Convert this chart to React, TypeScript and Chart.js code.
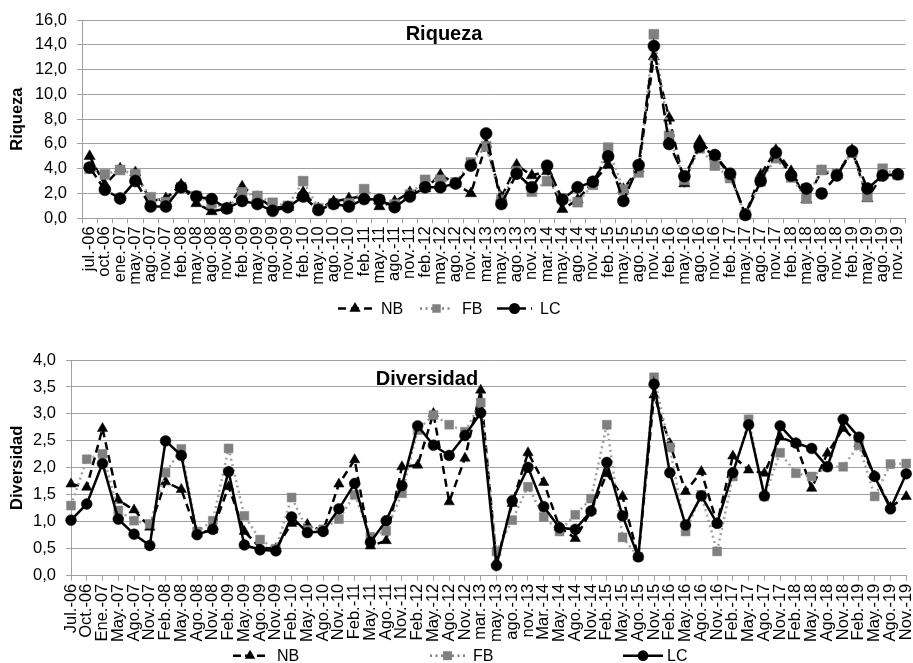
import React, { useEffect, useRef } from 'react';
import { Chart, registerables } from 'chart.js';

Chart.register(...registerables);

const FONT = '"Liberation Sans", Arial, sans-serif';
const GRID = '#a0a0a0';
const GRAY = '#808080';

const labelsRiqueza = ['jul.-06','oct.-06','ene.-07','may.-07','ago.-07','nov.-07','feb.-08','may.-08','ago.-08','nov.-08','feb.-09','may.-09','ago.-09','nov.-09','feb.-10','may.-10','ago.-10','nov.-10','feb.-11','may.-11','ago.-11','nov.-11','feb.-12','may.-12','ago.-12','nov.-12','mar.-13','may.-13','ago.-13','nov.-13','mar.-14','may.-14','ago.-14','nov.-14','feb.-15','may.-15','ago.-15','nov.-15','feb.-16','may.-16','ago.-16','nov.-16','feb.-17','may.-17','ago.-17','nov.-17','feb.-18','may.-18','ago.-18','nov.-18','feb.-19','may.-19','ago.-19','nov.-19'];

const labelsDiversidad = ['Jul.-06','Oct.-06','Ene.-07','May.-07','Ago.-07','Nov.-07','Feb.-08','May.-08','Ago.-08','Nov.-08','Feb.-09','May.-09','Ago.-09','Nov.-09','Feb.-10','May.-10','Ago.-10','Nov.-10','Feb.-11','May.-11','Ago.-11','Nov.-11','Feb.-12','May.-12','Ago.-12','Nov.-12','mar.-13','may.-13','ago.-13','nov.-13','Mar.-14','May.-14','Ago.-14','Nov.-14','Feb.-15','May.-15','Ago.-15','Nov.-15','Feb.-16','May.-16','Ago.-16','Nov.-16','Feb.-17','May.-17','Ago.-17','Nov.-17','Feb.-18','May.-18','Ago.-18','Nov.-18','Feb.-19','May.-19','Ago.-19','Nov.-19'];

const riquezaNB = [5.0,2.7,4.0,3.7,1.4,1.6,2.7,1.2,0.55,0.8,2.55,1.7,0.9,0.9,2.1,0.8,1.35,1.6,1.8,0.95,1.35,2.1,2.4,3.5,2.8,2.0,6.0,1.7,4.3,3.45,3.8,0.73,1.5,2.9,4.3,2.35,4.0,13.05,8.1,2.8,6.25,5.0,3.5,0.3,3.5,5.5,3.8,1.5,3.8,3.5,5.5,1.6,3.5,3.5];
const riquezaFB = [4.0,3.55,3.9,3.55,1.7,1.3,2.5,1.8,1.2,0.8,2.1,1.8,1.25,1.0,3.0,0.8,1.2,1.2,2.35,1.5,1.1,1.9,3.1,3.1,2.9,4.5,5.8,1.5,3.8,2.15,3.0,1.6,1.3,2.7,5.7,2.3,3.7,14.85,6.65,3.1,5.65,4.25,3.25,0.3,3.0,4.85,3.3,1.6,3.9,3.6,5.3,1.75,4.0,3.5];
const riquezaLC = [4.1,2.3,1.6,3.0,0.95,0.95,2.5,1.75,1.55,0.8,1.4,1.15,0.6,0.9,1.75,0.67,1.15,0.95,1.55,1.5,0.9,1.75,2.5,2.5,2.8,4.25,6.85,1.15,3.6,2.5,4.25,1.5,2.5,2.95,5.0,1.4,4.3,13.9,6.0,3.4,5.8,5.1,3.6,0.27,3.0,5.3,3.45,2.4,2.0,3.45,5.4,2.4,3.45,3.55];

const diversidadNB = [1.70,1.64,2.73,1.40,1.22,0.90,1.74,1.60,0.78,0.85,1.65,0.82,0.52,0.50,0.97,0.95,0.83,1.70,2.15,0.55,0.65,2.02,2.05,3.01,1.37,2.18,3.44,0.25,1.34,2.28,1.73,0.90,0.69,1.20,1.89,1.47,0.35,3.35,2.45,1.56,1.93,0.97,2.22,1.96,1.90,2.57,2.45,1.62,2.27,2.73,2.45,1.85,1.27,1.47];
const diversidadFB = [1.30,2.16,2.26,1.21,1.02,0.96,1.91,2.35,0.82,1.02,2.36,1.11,0.67,0.50,1.45,0.85,0.86,1.05,1.50,0.72,0.83,1.53,2.70,2.98,2.80,2.67,3.21,0.45,1.03,1.65,1.09,0.82,1.13,1.43,2.80,0.71,0.35,3.68,2.38,0.82,1.50,0.45,1.84,2.90,1.47,2.28,1.90,1.84,2.02,2.02,2.42,1.47,2.07,2.08];
const diversidadLC = [1.03,1.33,2.08,1.05,0.77,0.56,2.50,2.23,0.76,0.86,1.93,0.57,0.48,0.46,1.09,0.80,0.82,1.24,1.71,0.62,1.02,1.67,2.78,2.42,2.23,2.60,3.02,0.19,1.39,2.01,1.28,0.89,0.86,1.20,2.10,1.11,0.35,3.55,1.91,0.94,1.48,0.97,1.91,2.80,1.48,2.78,2.46,2.36,2.02,2.90,2.57,1.84,1.24,1.89];

type Marker = 'circle' | 'rect' | 'triangle';

function drawMarker(ctx: CanvasRenderingContext2D, kind: Marker, x: number, y: number, r: number, color: string) {
  ctx.save();
  ctx.setLineDash([]);
  ctx.fillStyle = color;
  ctx.beginPath();
  if (kind === 'circle') {
    ctx.arc(x, y, r, 0, Math.PI * 2);
  } else if (kind === 'rect') {
    const s = r * Math.SQRT1_2;
    ctx.rect(x - s, y - s, 2 * s, 2 * s);
  } else {
    const a = (2 * Math.PI) / 3;
    ctx.moveTo(x, y - r);
    ctx.lineTo(x + r * Math.sin(a), y - r * Math.cos(a));
    ctx.lineTo(x + r * Math.sin(2 * a), y - r * Math.cos(2 * a));
    ctx.closePath();
  }
  ctx.fill();
  ctx.restore();
}

interface LegendItem { label: string; color: string; width: number; dash: number[]; marker: Marker; r: number; x1: number; x2: number; textX: number; }

interface Panel {
  labels: string[]; nb: number[]; fb: number[]; lc: number[];
  yMax: number; step: number; yTitle: string; mainTitle: string; titleX: number; titleY: number;
  left: number; top: number; xH: number; right: number; offset: boolean;
  lcDash: number[]; rTri: number; rRect: number; rCirc: number;
  legendY: number; legend: LegendItem[];
}

function makeConfig(p: Panel): any {
  const tickFont = { family: FONT, size: 16.5 };
  const overlay = {
    id: 'overlay',
    afterDraw(chart: any) {
      const ctx: CanvasRenderingContext2D = chart.ctx;
      ctx.save();
      ctx.fillStyle = '#000';
      ctx.font = `bold 20px ${FONT}`;
      ctx.textAlign = 'center';
      ctx.textBaseline = 'alphabetic';
      ctx.fillText(p.mainTitle, p.titleX, p.titleY);
      ctx.font = `16px ${FONT}`;
      ctx.textAlign = 'left';
      ctx.textBaseline = 'middle';
      for (const it of p.legend) {
        ctx.save();
        ctx.strokeStyle = it.color;
        ctx.lineWidth = it.width;
        ctx.setLineDash(it.dash);
        ctx.beginPath();
        ctx.moveTo(it.x1, p.legendY);
        ctx.lineTo(it.x2, p.legendY);
        ctx.stroke();
        ctx.restore();
        drawMarker(ctx, it.marker, (it.x1 + it.x2) / 2, p.legendY, it.r, it.color);
        ctx.fillStyle = '#000';
        ctx.fillText(it.label, it.textX, p.legendY + 1);
      }
      ctx.restore();
    },
  };
  return {
    type: 'line',
    data: {
      labels: p.labels,
      datasets: [
        { label: 'NB', data: p.nb, borderColor: '#000', backgroundColor: '#000', borderWidth: 2.5, borderDash: [8, 5], pointStyle: 'triangle', pointRadius: p.rTri, pointBorderWidth: 0.5, pointBackgroundColor: '#000', pointBorderColor: '#000', tension: 0, order: 3, clip: false },
        { label: 'FB', data: p.fb, borderColor: '#a0a0a0', backgroundColor: GRAY, borderWidth: 2.5, borderDash: [2, 3.5], pointStyle: 'rect', pointRadius: p.rRect, pointBorderWidth: 0.5, pointBackgroundColor: GRAY, pointBorderColor: GRAY, tension: 0, order: 2, clip: false },
        { label: 'LC', data: p.lc, borderColor: '#000', backgroundColor: '#000', borderWidth: 2.5, borderDash: p.lcDash, pointStyle: 'circle', pointRadius: p.rCirc, pointBorderWidth: 0.5, pointBackgroundColor: '#000', pointBorderColor: '#000', tension: 0, order: 1, clip: false },
      ],
    },
    options: {
      responsive: false,
      animation: false,
      events: [],
      layout: { padding: { top: p.top, left: 0, right: p.right, bottom: 0 } },
      plugins: { legend: { display: false }, tooltip: { enabled: false }, title: { display: false } },
      scales: {
        x: {
          type: 'category',
          offset: p.offset,
          grid: { display: true, offset: p.offset, drawOnChartArea: false, drawTicks: true, tickLength: 5, color: GRID, lineWidth: 1 },
          border: { display: true, color: GRID, width: 1 },
          ticks: { autoSkip: false, maxRotation: 90, minRotation: 90, padding: 3, font: tickFont, color: '#000' },
          afterFit: (s: any) => { s.height = p.xH; s.paddingLeft = 0; s.paddingRight = 0; },
        },
        y: {
          min: 0,
          max: p.yMax,
          ticks: { stepSize: p.step, padding: 10, font: tickFont, color: '#000', callback: (v: any) => Number(v).toFixed(1).replace('.', ',') },
          grid: { color: GRID, lineWidth: 1, tickLength: 5, drawTicks: true },
          border: { display: true, color: GRID, width: 1 },
          title: { display: true, text: p.yTitle, font: { family: FONT, size: 16.5, weight: 'bold' }, color: '#000', padding: { top: 8, bottom: 0 } },
          afterFit: (s: any) => { s.width = p.left; s.paddingTop = 0; s.paddingBottom = 0; },
        },
      },
    },
    plugins: [overlay],
  };
}

const riquezaPanel: Panel = {
  labels: labelsRiqueza, nb: riquezaNB, fb: riquezaFB, lc: riquezaLC,
  yMax: 16, step: 2, yTitle: 'Riqueza', mainTitle: 'Riqueza', titleX: 444, titleY: 40,
  left: 82, top: 20, xH: 111.7, right: 0, offset: true,
  lcDash: [12, 5], rTri: 6.5, rRect: 7, rCirc: 6,
  legendY: 308.5,
  legend: [
    { label: 'NB', color: '#000', width: 2.5, dash: [8, 5], marker: 'triangle', r: 6.5, x1: 338, x2: 372, textX: 381 },
    { label: 'FB', color: GRAY, width: 2.5, dash: [2, 3.5], marker: 'rect', r: 6, x1: 420, x2: 453, textX: 462 },
    { label: 'LC', color: '#000', width: 2.5, dash: [12, 5], marker: 'circle', r: 5.5, x1: 497, x2: 532, textX: 540 },
  ],
};

const diversidadPanel: Panel = {
  labels: labelsDiversidad, nb: diversidadNB, fb: diversidadFB, lc: diversidadLC,
  yMax: 4, step: 0.5, yTitle: 'Diversidad', mainTitle: 'Diversidad', titleX: 427, titleY: 55,
  left: 71, top: 30, xH: 87.3, right: 1, offset: false,
  lcDash: [], rTri: 6, rRect: 6.3, rCirc: 5.4,
  legendY: 325.7,
  legend: [
    { label: 'NB', color: '#000', width: 2.5, dash: [8, 4], marker: 'triangle', r: 6, x1: 233, x2: 267, textX: 277 },
    { label: 'FB', color: GRAY, width: 2.5, dash: [2, 3.5], marker: 'rect', r: 6.3, x1: 430, x2: 465, textX: 473 },
    { label: 'LC', color: '#000', width: 2.5, dash: [], marker: 'circle', r: 5.4, x1: 623, x2: 663, textX: 667 },
  ],
};

function ChartPanel({ panel, top, height }: { panel: Panel; top: number; height: number }) {
  const ref = useRef<HTMLCanvasElement>(null);
  useEffect(() => {
    const chart = new Chart(ref.current as HTMLCanvasElement, makeConfig(panel));
    return () => chart.destroy();
  }, [panel]);
  return (
    <div style={{ position: 'absolute', left: 0, top, width: 913, height, overflow: 'hidden' }}>
      <canvas ref={ref} width={913} height={height} style={{ display: 'block' }} />
    </div>
  );
}

export default function App() {
  return (
    <div style={{ position: 'absolute', left: 0, top: 0, width: 913, height: 663, background: '#fff' }}>
      <ChartPanel panel={riquezaPanel} top={0} height={330} />
      <ChartPanel panel={diversidadPanel} top={330} height={333} />
    </div>
  );
}
